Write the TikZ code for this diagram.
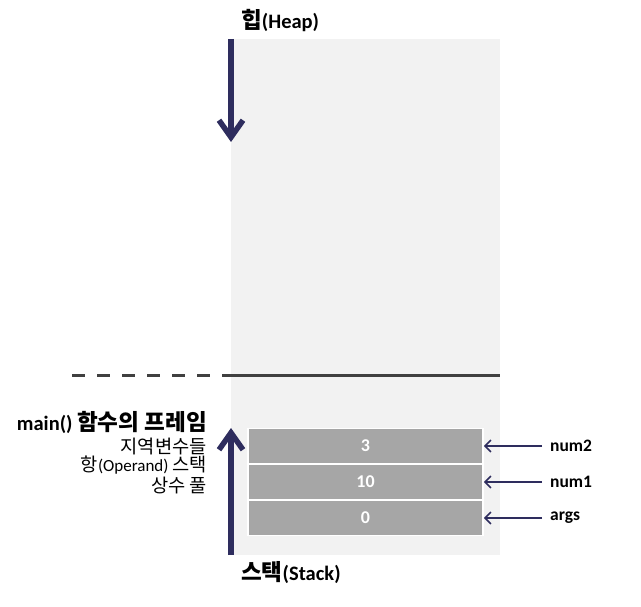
\documentclass[tikz,border=0pt]{standalone}
\usepackage{fontspec}
\setmainfont{Carlito}
\newfontfamily\kr[Scale=1.1]{Noto Sans CJK KR}
\usetikzlibrary{arrows.meta}
\definecolor{navy}{HTML}{2E2D5E}
\definecolor{bgray}{HTML}{F2F2F2}
\definecolor{cellgray}{HTML}{A6A6A6}
\definecolor{linegray}{HTML}{404040}
\tikzset{
  bigarrow/.style={draw=navy, line width=5.5pt, -{Straight Barb[length=17pt,width=24pt]}},
  ptr/.style={draw=navy, line width=1.6pt, -{Straight Barb[length=6pt,width=12pt]}},
  cell/.style={draw=white, line width=1.5pt, fill=cellgray, minimum width=235pt, minimum height=35pt, inner sep=0pt, text=white, font=\bfseries\fontsize{18}{20}\selectfont},
  heading/.style={inner sep=0pt, font=\bfseries\fontsize{20.5}{24}\selectfont},
  sub/.style={inner sep=0pt, anchor=east, font=\fontsize{17}{20}\selectfont},
  var/.style={inner sep=0pt, anchor=west, font=\bfseries\fontsize{17.5}{20}\selectfont}
}
\begin{document}
\begin{tikzpicture}[x=1pt,y=-1pt]
\useasboundingbox (0,0) rectangle (641,607);
% background region
\fill[bgray] (231,39) rectangle (500,555);
% separator
\coordinate (dl) at (72,375.5);
\coordinate (dm) at (231,375.5);
\coordinate (dr) at (500,375.5);
\draw[linegray, line width=3pt, dash pattern=on 13pt off 12pt] (dl) -- (dm);
\draw[linegray, line width=3pt] (dm) -- (dr);
% heap arrow
\coordinate (htop) at (231,39);
\coordinate (htip) at (231,142);
\draw[bigarrow] (htop) -- (htip);
% stack arrow
\coordinate (sbot) at (231,555);
\coordinate (stip) at (231,428);
\draw[bigarrow] (sbot) -- (stip);
% titles
\node[heading, anchor=west] (heap) at (241,21) {{\kr 힙}(Heap)};
\node[heading, anchor=west] (stack) at (241,573) {{\kr 스택}(Stack)};
\node[heading, anchor=east] (frame) at (207,422) {main() {\kr 함수의 프레임}};
\node[sub] (loc) at (207,446) {\kr 지역변수들};
\node[sub] (opr) at (207,465.5) {{\kr 항}(Operand) {\kr 스택}};
\node[sub] (cp) at (207,485) {\kr 상수 풀};
% cells
\node[cell] (c3) at (365.5,446) {3};
\node[cell] (c10) at (365.5,482) {10};
\node[cell] (c0) at (365.5,518) {0};
% labels
\node[var] (n2) at (550,446) {num2};
\node[var] (n1) at (550,482) {num1};
\node[var] (ar) at (550,518) {args};
\draw[ptr] ([xshift=-8pt]n2.west) -- (c3.east);
\draw[ptr] ([xshift=-8pt]n1.west) -- (c10.east);
\draw[ptr] ([xshift=-8pt]ar.west) -- (c0.east);
\end{tikzpicture}
\end{document}
